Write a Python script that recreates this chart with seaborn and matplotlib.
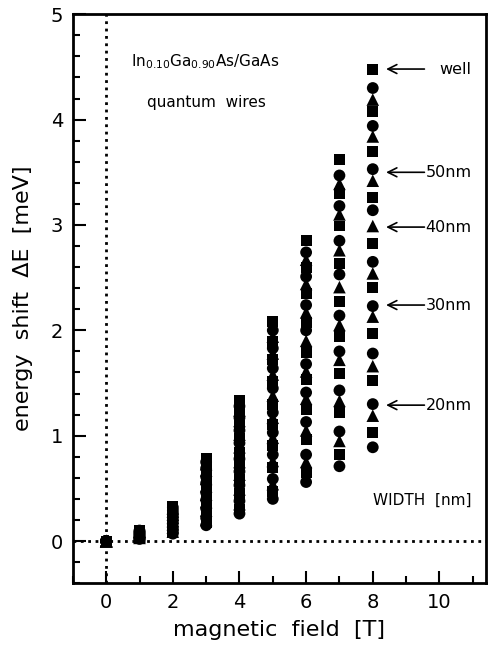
import pandas as pd
import matplotlib
matplotlib.use("Agg")
import matplotlib.pyplot as plt
from matplotlib.ticker import MultipleLocator
import seaborn as sns

# magnetic field values (T) and the measured shifts at each field, top to bottom
fields = [0, 1, 2, 3, 4, 5, 6, 7, 8]
sample_order = list("SCT" * 8 + "SC")  # S=square, C=circle, T=triangle

b0 = [0.0] * 26
b1 = [0.10, 0.10, 0.09, 0.09, 0.09, 0.09, 0.08, 0.08, 0.08, 0.07, 0.07, 0.07, 0.06,
      0.06, 0.06, 0.05, 0.05, 0.05, 0.04, 0.04, 0.04, 0.03, 0.03, 0.03, 0.02, 0.02]
b2 = [0.33, 0.32, 0.31, 0.30, 0.29, 0.28, 0.27, 0.26, 0.25, 0.24, 0.23, 0.22, 0.21,
      0.20, 0.19, 0.18, 0.17, 0.16, 0.15, 0.13, 0.13, 0.12, 0.10, 0.09, 0.08, 0.07]
b3 = [0.78, 0.75, 0.73, 0.71, 0.69, 0.67, 0.64, 0.61, 0.59, 0.57, 0.55, 0.52, 0.49,
      0.46, 0.44, 0.42, 0.39, 0.37, 0.34, 0.31, 0.29, 0.26, 0.22, 0.20, 0.18, 0.15]
b4 = [1.33, 1.28, 1.24, 1.21, 1.17, 1.14, 1.10, 1.05, 1.01, 0.97, 0.93, 0.89, 0.84,
      0.78, 0.75, 0.71, 0.66, 0.63, 0.58, 0.53, 0.49, 0.45, 0.38, 0.35, 0.30, 0.26]
b5 = [2.08, 2.00, 1.94, 1.89, 1.83, 1.78, 1.72, 1.64, 1.58, 1.51, 1.45, 1.38, 1.30,
      1.22, 1.17, 1.11, 1.03, 0.98, 0.91, 0.82, 0.76, 0.70, 0.59, 0.54, 0.47, 0.40]
b6 = [2.85, 2.74, 2.67, 2.60, 2.51, 2.44, 2.35, 2.24, 2.17, 2.07, 2.00, 1.90, 1.79,
      1.68, 1.61, 1.53, 1.41, 1.35, 1.25, 1.13, 1.05, 0.96, 0.82, 0.75, 0.65, 0.56]
b7 = [3.62, 3.47, 3.39, 3.30, 3.18, 3.10, 2.99, 2.85, 2.76, 2.63, 2.53, 2.41, 2.27,
      2.14, 2.05, 1.94, 1.80, 1.72, 1.59, 1.43, 1.33, 1.22, 1.04, 0.95, 0.82, 0.71]
b8 = [4.48, 4.30, 4.19, 4.08, 3.94, 3.84, 3.70, 3.53, 3.42, 3.26, 3.14, 2.99, 2.82,
      2.65, 2.54, 2.41, 2.23, 2.13, 1.97, 1.78, 1.66, 1.52, 1.30, 1.19, 1.03, 0.89]
shifts = [b0, b1, b2, b3, b4, b5, b6, b7, b8]

# width labels at 8 T
width_labels = ["well", "50nm", "40nm", "30nm", "20nm"]
width_levels = [4.48, 3.50, 2.98, 2.24, 1.29]

rows = []
for b, vals in zip(fields, shifts):
    for kind, v in zip(sample_order, vals):
        rows.append({"field": b, "shift": v, "kind": kind})
df = pd.DataFrame(rows)

sns.set_style("ticks", {"xtick.direction": "in", "ytick.direction": "in",
                        "axes.edgecolor": "black", "text.color": "black",
                        "axes.labelcolor": "black", "xtick.color": "black",
                        "ytick.color": "black"})
plt.rcParams["font.family"] = ["DejaVu Sans"]

fig = plt.figure(figsize=(4.89, 6.48), dpi=100)
ax = fig.add_axes([0.149, 0.100, 0.845, 0.878])

ax.axvline(0, color="black", ls=":", lw=2, zorder=1)
ax.axhline(0, color="black", ls=":", lw=2, zorder=1)

marker_map = {"S": "s", "C": "o", "T": "^"}
size_map = {"S": 62, "C": 72, "T": 82}
for kind in ["S", "C", "T"]:
    sns.scatterplot(data=df[df["kind"] == kind], x="field", y="shift",
                    marker=marker_map[kind], s=size_map[kind], color="black",
                    edgecolor="none", linewidth=0, ax=ax, zorder=3, legend=False)

ax.set_xlim(-1, 11.4)
ax.set_ylim(-0.4, 5)
ax.xaxis.set_major_locator(MultipleLocator(2))
ax.xaxis.set_minor_locator(MultipleLocator(1))
ax.yaxis.set_major_locator(MultipleLocator(1))
ax.yaxis.set_minor_locator(MultipleLocator(0.2))
ax.tick_params(which="major", length=9, width=1.5, labelsize=14, pad=7, colors="black")
ax.tick_params(which="minor", length=5, width=1.5, colors="black")
ax.tick_params(top=False, right=False, which="both")
for sp in ax.spines.values():
    sp.set_linewidth(2)
    sp.set_color("black")
    sp.set_visible(True)

ax.set_xlabel("magnetic  field  [T]", fontsize=16, labelpad=6, color="black")
ax.set_ylabel("energy  shift  ΔE  [meV]", fontsize=16, labelpad=13, color="black")

ax.text(0.75, 4.55, "In$_{0.10}$Ga$_{0.90}$As/GaAs", fontsize=11, va="center", ha="left")
ax.text(3.0, 4.16, "quantum  wires", fontsize=11, va="center", ha="center")
ax.text(10.95, 0.39, "WIDTH  [nm]", fontsize=11, va="center", ha="right")

for lab, lev in zip(width_labels, width_levels):
    ax.annotate("", xy=(8.4, lev), xytext=(9.55, lev),
                arrowprops=dict(arrowstyle="->", color="black", lw=1.2,
                                mutation_scale=16, shrinkA=0, shrinkB=0))
    ax.text(10.97, lev, lab, fontsize=11.5, va="center", ha="right")

fig.savefig("out.png", dpi=100)
